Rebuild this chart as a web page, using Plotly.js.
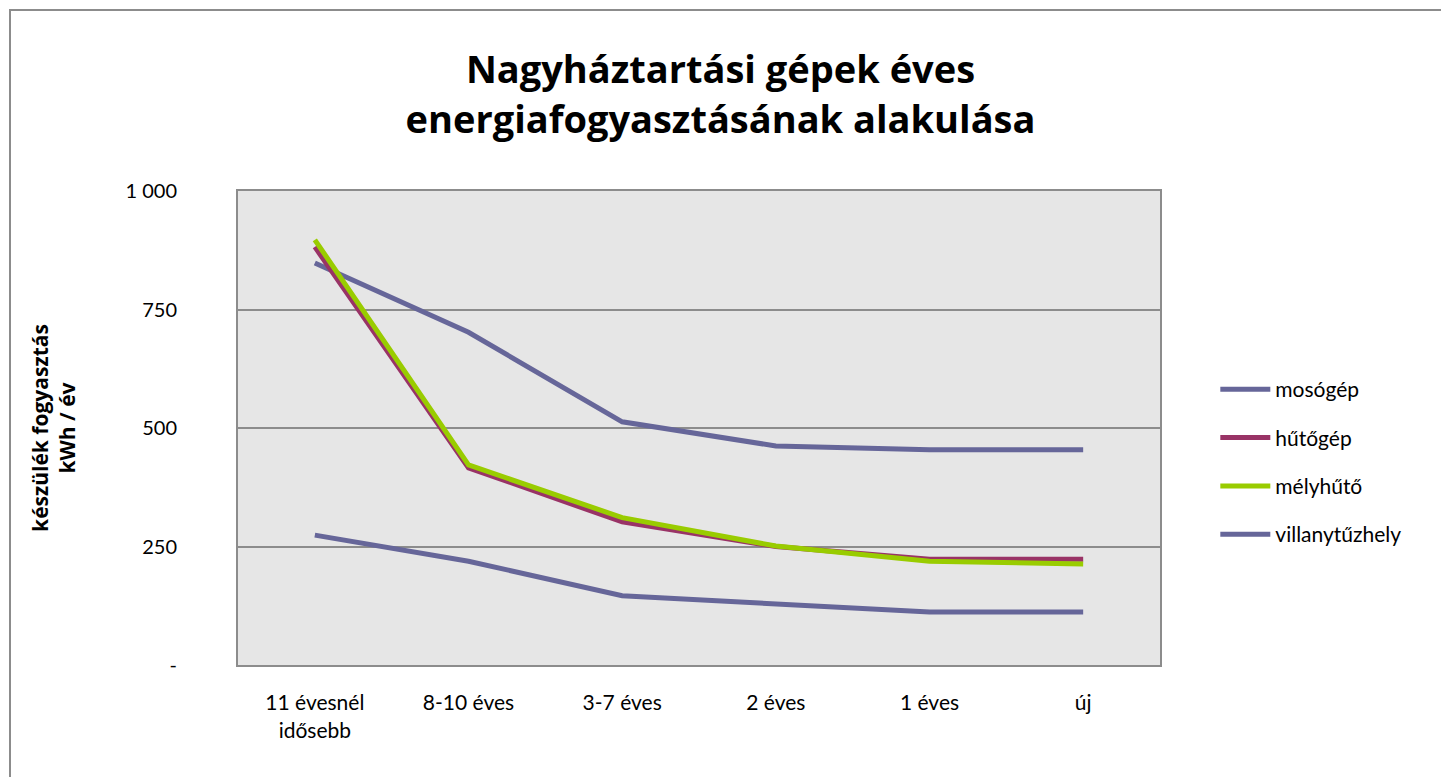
<!DOCTYPE html>
<html>
<head>
<meta charset="utf-8">
<script src="https://cdn.plot.ly/plotly-3.0.1.min.js"></script>
<style>
html,body{margin:0;padding:0;background:#fff;overflow:hidden;}
#chart{position:absolute;left:0;top:0;width:1441px;height:777px;}
#frame{position:absolute;left:9px;top:9px;width:1500px;height:900px;border:2px solid #8c8c8c;pointer-events:none;}
</style>
</head>
<body>
<div id="chart"></div>
<div id="frame"></div>
<script>
const categories = ["11 évesnél<br>idősebb", "8-10 éves", "3-7 éves", "2 éves", "1 éves", "új"];
const mosogep = [848, 702, 513, 462, 454, 454];
const hutogep = [882, 416, 302, 250, 223, 223];
const melyhuto = [897, 422, 311, 251, 219, 213];
const villanytuzhely = [274, 219, 146, 129, 112, 112];
const seriesNames = ["mosógép", "hűtőgép", "mélyhűtő", "villanytűzhely"];
const seriesColors = ["#666699", "#993366", "#99cc00", "#666699"];
const yTickVals = [0, 250, 500, 750, 1000];
const yTickText = ["-", "250", "500", "750", "1 000"];

const allSeries = [mosogep, hutogep, melyhuto, villanytuzhely];
const traces = allSeries.map((vals, i) => ({
  type: "scatter",
  mode: "lines",
  x: categories,
  y: vals,
  name: seriesNames[i],
  legendgroup: "g" + i,
  line: {color: seriesColors[i], width: 5}
}));

const font = "Lato, 'Open Sans', 'Liberation Sans', sans-serif";
const boldFont = "'Open Sans', Lato, 'Liberation Sans', sans-serif";
const layout = {
  width: 1441,
  height: 777,
  margin: {l: 238, r: 281, t: 191, b: 112},
  paper_bgcolor: "rgba(0,0,0,0)",
  plot_bgcolor: "#e6e6e6",
  font: {family: font, size: 20, color: "#000"},
  title: {
    text: "<b>Nagyháztartási gépek éves<br>energiafogyasztásának alakulása</b>",
    font: {family: boldFont, size: 38, color: "#000"},
    x: 0.5, xanchor: "center", y: 0.893, yanchor: "middle"
  },
  xaxis: {
    type: "category",
    showgrid: false,
    showline: true, linecolor: "#8c8c8c", linewidth: 2, mirror: true,
    ticks: "outside", ticklen: 18, tickcolor: "rgba(0,0,0,0)",
    tickfont: {family: font, size: 21},
    range: [-0.5, 5.5],
    fixedrange: true
  },
  yaxis: {
    range: [0, 1000],
    tickvals: yTickVals,
    ticktext: yTickText,
    showgrid: true, gridcolor: "#8c8c8c", gridwidth: 2,
    showline: true, linecolor: "#8c8c8c", linewidth: 2, mirror: true,
    zeroline: false,
    ticks: "outside", ticklen: 55, tickcolor: "rgba(0,0,0,0)",
    tickfont: {family: font, size: 20},
    title: {
      text: "<b>készülék fogyasztás<br>kWh / év</b>",
      font: {family: boldFont, size: 21},
      standoff: 44
    },
    fixedrange: true
  },
  showlegend: true,
  legend: {
    x: 1.06, xanchor: "left",
    y: 0.428, yanchor: "middle",
    font: {family: font, size: 21},
    tracegroupgap: 18,
    itemwidth: 50,
    bgcolor: "rgba(0,0,0,0)"
  }
};

Plotly.newPlot("chart", traces, layout, {displayModeBar: false, staticPlot: true});
</script>
</body>
</html>
